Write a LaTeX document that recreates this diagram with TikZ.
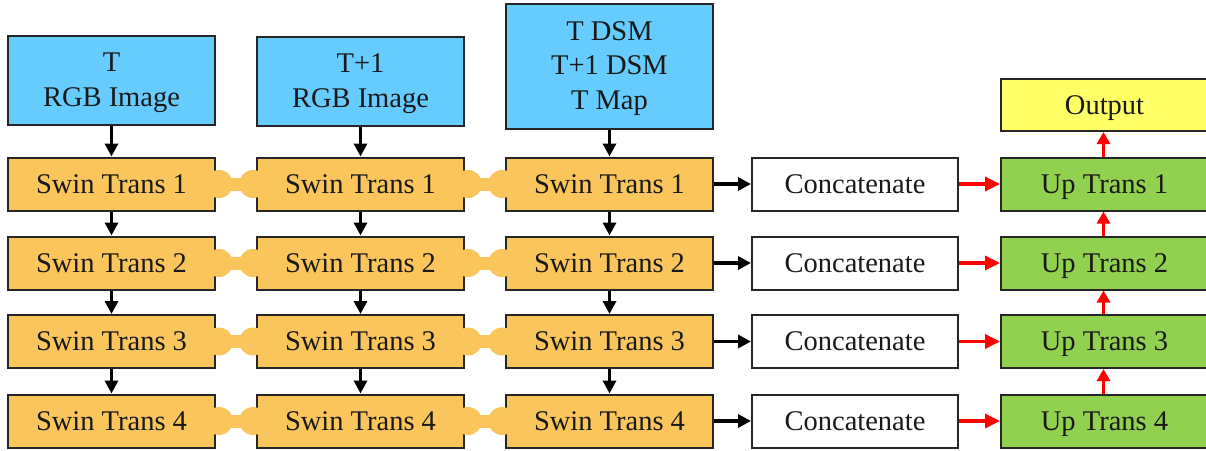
\documentclass[tikz,border=0pt]{standalone}
\usepackage{fontspec}
\setmainfont{Liberation Serif}
\usetikzlibrary{arrows.meta,calc}
\definecolor{swinc}{RGB}{250,198,92}
\definecolor{inpc}{RGB}{102,204,255}
\definecolor{upc}{RGB}{146,208,80}
\definecolor{outc}{RGB}{255,255,102}
\tikzset{
  fnt/.style={font=\fontsize{28.5}{34.5}\selectfont, text=black!90},
  box/.style={fnt, draw=black!85, line width=2pt, minimum width=207pt, minimum height=53pt, inner sep=0pt, text height=25.6pt, text depth=6.8pt},
  swin/.style={box, fill=swinc},
  inp/.style={draw=black!85, line width=2pt, minimum width=207pt, inner sep=0pt, fill=inpc},
  txt/.style={fnt, align=center, inner sep=0pt},
  cat/.style={box, fill=white, minimum width=206pt},
  up/.style={box, fill=upc},
  outb/.style={box, fill=outc},
  blk/.style={line width=3.6pt, black, -{Triangle[length=13pt,width=13pt]}},
  redar/.style={line width=3.4pt, red, -{Triangle[length=15pt,width=14pt]}},
  redup/.style={line width=3.4pt, red, -{Triangle[length=12pt,width=13pt]}},
}
\begin{document}
\begin{tikzpicture}[x=1pt,y=-1pt]
\useasboundingbox (0,0) rectangle (1206,450);
% input boxes
\node[inp, minimum height=89pt] (i1) at (111.5,80.5) {};
\node[txt] (t1) at ([yshift=-2pt]i1.center) {T\\RGB Image};
\node[inp, minimum height=89pt] (i2) at (360.5,81.5) {};
\node[txt] (t2) at ([yshift=-2pt]i2.center) {T+1\\RGB Image};
\node[inp, minimum height=125pt] (i3) at (609.5,66.5) {};
\node[txt] (t3) at ([yshift=-2pt]i3.center) {T DSM\\T+1 DSM\\T Map};
\node[outb, minimum height=52pt] (out) at (1104.5,105) {Output};
% rows
\foreach \r/\y in {1/184,2/263,3/341.5,4/421}{
  \node[swin] (a\r) at (111.5,\y) {Swin Trans \r};
  \node[swin] (b\r) at (360.5,\y) {Swin Trans \r};
  \node[swin] (c\r) at (609.5,\y) {Swin Trans \r};
  \node[cat] (k\r) at (855,\y) {Concatenate};
  \node[up] (u\r) at (1104.5,\y) {Up Trans \r};
  % orange links
  \foreach \p/\q in {a/b,b/c}{
    \fill[swinc] ([xshift=3pt]\p\r.east) circle[radius=14pt];
    \fill[swinc] ([xshift=-3pt]\q\r.west) circle[radius=14pt];
    \fill[swinc] ([yshift=-6.5pt]\p\r.east) rectangle ([yshift=6.5pt]\q\r.west);
  }
  \draw[blk] (c\r.east) -- (k\r.west);
  \draw[redar] (k\r.east) -- (u\r.west);
}
% vertical arrows
\draw[blk] (i1.south) -- (a1.north);
\draw[blk] (i2.south) -- (b1.north);
\draw[blk] (i3.south) -- (c1.north);
\foreach \col in {a,b,c}{
  \draw[blk] (\col1.south) -- (\col2.north);
  \draw[blk] (\col2.south) -- (\col3.north);
  \draw[blk] (\col3.south) -- (\col4.north);
}
\draw[redup] ([xshift=-1pt]u4.north) -- ([xshift=-1pt]u3.south);
\draw[redup] ([xshift=-1pt]u3.north) -- ([xshift=-1pt]u2.south);
\draw[redup] ([xshift=-1pt]u2.north) -- ([xshift=-1pt]u1.south);
\draw[redup] ([xshift=-1pt]u1.north) -- ([xshift=-1pt]out.south);
\end{tikzpicture}
\end{document}
